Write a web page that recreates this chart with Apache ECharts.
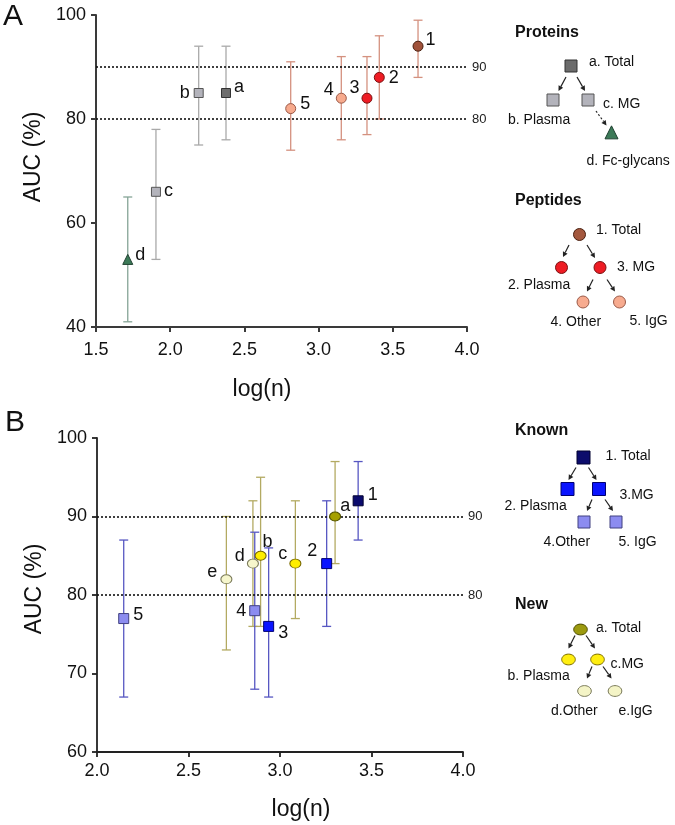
<!DOCTYPE html>
<html><head><meta charset="utf-8">
<script src="https://cdn.jsdelivr.net/npm/echarts@6/dist/echarts.min.js"></script>
<style>html,body{margin:0;padding:0;background:#fff}#c{width:675px;height:825px}</style>
</head><body><div id="c"></div><script>
// ---------- Panel A data ----------
const aIds  = ['a','b','c','d','1','2','3','4','5'];
const aLogN = [2.376, 2.192, 1.904, 1.714, 3.670, 3.409, 3.326, 3.153, 2.812];
const aAUC  = [85, 85, 66, 53, 94, 88, 84, 84, 82];
const aLow  = [76, 75, 53, 41, 88, 80, 77, 76, 74];
const aHigh = [94, 94, 78, 65, 99, 96, 92, 92, 91];
const aXTickLabels = ['1.5','2.0','2.5','3.0','3.5','4.0'];
const aYTickLabels = ['40','60','80','100'];
// ---------- Panel B data ----------
const bIds  = ['5','e','d','4','b','3','c','2','a','1'];
const bLogN = [2.146, 2.707, 2.852, 2.862, 2.894, 2.938, 3.084, 3.255, 3.301, 3.427];
const bAUC  = [77, 82, 84, 78, 85, 76, 84, 84, 90, 92];
const bLow  = [67, 73, 76, 68, 76, 67, 77, 76, 84, 87];
const bHigh = [87, 90, 92, 88, 95, 86, 92, 92, 97, 97];
const bXTickLabels = ['2.0','2.5','3.0','3.5','4.0'];
const bYTickLabels = ['60','70','80','90','100'];
const refLines = [90, 80];

// ---------- styles (not data) ----------
const FONT = 'Liberation Sans, Arial, Helvetica, sans-serif';
const ELL = 'path://M0,5A5,5,0,1,1,10,5A5,5,0,1,1,0,5Z';
const styleA = {
  a:{sym:'rect', size:9, fill:'#6d6d6d', stroke:'#333', err:'#a9a9a9', pos:'right', off:[-1,-6]},
  b:{sym:'rect', size:9, fill:'#b3b3bb', stroke:'#555', err:'#a9a9a9', pos:'left', off:[0,0]},
  c:{sym:'rect', size:9, fill:'#b3b3bb', stroke:'#555', err:'#a9a9a9', pos:'right', off:[-1,-1]},
  d:{sym:'triangle', size:10, fill:'#3c7a58', stroke:'#1f4030', err:'#86a496', pos:'right', off:[-2,-4]},
  '1':{sym:'circle', size:10, fill:'#a0523a', stroke:'#4a2010', err:'#d4917f', pos:'right', off:[-2,-6]},
  '2':{sym:'circle', size:10, fill:'#ee1c24', stroke:'#7a1010', err:'#d4917f', pos:'right', off:[0,1]},
  '3':{sym:'circle', size:10, fill:'#ee1c24', stroke:'#7a1010', err:'#d4917f', pos:'left', off:[2,-10]},
  '4':{sym:'circle', size:10, fill:'#f7aa8d', stroke:'#9a5a48', err:'#d4917f', pos:'left', off:[2,-8]},
  '5':{sym:'circle', size:10, fill:'#f7aa8d', stroke:'#9a5a48', err:'#d4917f', pos:'right', off:[0,-5]}
};
const styleB = {
  '1':{sym:'rect', size:10, fill:'#0b0b6e', stroke:'#000030', err:'#5757c2', pos:'right', off:[0,-6]},
  '2':{sym:'rect', size:10, fill:'#0a14ff', stroke:'#000070', err:'#5757c2', pos:'left', off:[0,-13]},
  '3':{sym:'rect', size:10, fill:'#0a14ff', stroke:'#000070', err:'#5757c2', pos:'right', off:[0,7]},
  '4':{sym:'rect', size:10, fill:'#8c8cf0', stroke:'#404080', err:'#5757c2', pos:'left', off:[1,0]},
  '5':{sym:'rect', size:10, fill:'#8c8cf0', stroke:'#404080', err:'#5757c2', pos:'right', off:[0,-4]},
  a:{sym:ELL, size:[11,9], fill:'#a5a000', stroke:'#505000', err:'#b3aa62', pos:'right', off:[-5,-10]},
  b:{sym:ELL, size:[11,9], fill:'#ffee00', stroke:'#7a6a00', err:'#b3aa62', pos:'top', off:[7,4]},
  c:{sym:ELL, size:[11,9], fill:'#ffee00', stroke:'#7a6a00', err:'#b3aa62', pos:'left', off:[2,-10]},
  d:{sym:ELL, size:[11,9], fill:'#f6f6cc', stroke:'#7a7a5a', err:'#b3aa62', pos:'left', off:[2,-8]},
  e:{sym:ELL, size:[11,9], fill:'#f6f6cc', stroke:'#7a7a5a', err:'#b3aa62', pos:'left', off:[1,-7]}
};

function errData(ids, xs, lo, hi, st){
  return ids.map((id,i)=>({value:[xs[i], lo[i], hi[i]], itemStyle:{color: st[id].err}}));
}
function ptData(ids, xs, ys, st){
  return ids.map((id,i)=>{
    const s = st[id];
    return {value:[xs[i], ys[i]], name:id, symbol:s.sym, symbolSize:s.size,
      itemStyle:{color:s.fill, borderColor:s.stroke, borderWidth:1, opacity:1},
      label:{show:true, formatter:id, position:s.pos, offset:s.off, distance:4,
             fontSize:18, fontFamily:FONT, color:'#111'}};
  });
}
function errRender(params, api){
  const x = api.value(0), lo = api.value(1), hi = api.value(2);
  const t = api.coord([x, hi]), b = api.coord([x, lo]);
  const c = api.visual('color'); const w = 4.5;
  const st = {stroke:c, lineWidth:1.3};
  return {type:'group', children:[
    {type:'line', shape:{x1:t[0], y1:t[1], x2:b[0], y2:b[1]}, style:st},
    {type:'line', shape:{x1:t[0]-w, y1:t[1], x2:t[0]+w, y2:t[1]}, style:st},
    {type:'line', shape:{x1:b[0]-w, y1:b[1], x2:b[0]+w, y2:b[1]}, style:st}
  ]};
}
function refMark(xmin, xmax){
  return {silent:true, symbol:['none','none'], animation:false,
    lineStyle:{type:[2,2], width:1.6, color:'#111'},
    label:{show:true, position:'end', distance:5, fontSize:13, fontFamily:FONT, color:'#222',
           formatter:p=>String(p.value)},
    data: refLines.map(v=>[{coord:[xmin, v], value:v},{coord:[xmax, v], value:v}])};
}

// ---------- legend diagrams (graphic) ----------
const G = [];
function txt(x,y,t,opt){ G.push({type:'text', x:x, y:y, silent:true, style:Object.assign({text:t, fill:'#111',
  font:(opt&&opt.bold?'bold ':'')+((opt&&opt.size)||14)+'px '+FONT, textAlign:'left', textVerticalAlign:'middle',
  align:'left', verticalAlign:'middle'}, opt&&opt.style||{})}); }
function sq(cx,cy,s,fill,stroke){ G.push({type:'rect', shape:{x:cx-s/2, y:cy-s/2, width:s, height:s}, style:{fill:fill, stroke:stroke, lineWidth:1}}); }
function circ(cx,cy,r,fill,stroke){ G.push({type:'circle', shape:{cx:cx, cy:cy, r:r}, style:{fill:fill, stroke:stroke, lineWidth:1}}); }
function ell(cx,cy,rx,ry,fill,stroke){ G.push({type:'ellipse', shape:{cx:cx, cy:cy, rx:rx, ry:ry}, style:{fill:fill, stroke:stroke, lineWidth:1}}); }
function tri(cx,cy,s,fill,stroke){ G.push({type:'polygon', shape:{points:[[cx,cy-s*0.55],[cx+s/2,cy+s*0.45],[cx-s/2,cy+s*0.45]]}, style:{fill:fill, stroke:stroke, lineWidth:1}}); }
function arrow(x1,y1,x2,y2,dashed){
  const a = Math.atan2(y2-y1, x2-x1), L = 5, W = 2.6;
  const bx = x2 - L*Math.cos(a), by = y2 - L*Math.sin(a);
  G.push({type:'line', shape:{x1:x1,y1:y1,x2:bx,y2:by}, style:{stroke:'#222', lineWidth:1.2, lineDash: dashed?[2,2]:null}});
  G.push({type:'polygon', shape:{points:[[x2,y2],[bx-W*Math.sin(a), by+W*Math.cos(a)],[bx+W*Math.sin(a), by-W*Math.cos(a)]]}, style:{fill:'#222'}});
}
// panel letters
txt(3, 17, 'A', {size:30});
txt(5, 423, 'B', {size:30});
// Proteins
txt(515, 33, 'Proteins', {bold:true, size:16});
sq(571, 66, 12, '#6b6b6b', '#333');
txt(589, 62, 'a. Total');
arrow(566, 77, 558.5, 91); arrow(577, 77, 585, 91);
sq(553, 100, 12, '#b3b3bb', '#555'); sq(588, 100, 12, '#b3b3bb', '#555');
txt(603, 104, 'c. MG'); txt(508, 120, 'b. Plasma');
arrow(596, 111, 606.5, 125.5, true);
tri(611.5, 133, 13, '#3c7a58', '#1f4030');
txt(586.5, 161.5, 'd. Fc-glycans');
// Peptides
txt(515, 201, 'Peptides', {bold:true, size:16});
circ(579.5, 234.5, 6, '#a4583e', '#4a2010');
txt(596, 230, '1. Total');
arrow(569, 245, 563, 257); arrow(587, 245, 595, 258);
circ(561.5, 267.5, 6, '#ee1c24', '#7a1010'); circ(600, 267.5, 6, '#ee1c24', '#7a1010');
txt(617, 267.5, '3. MG'); txt(508, 285, '2. Plasma');
arrow(593, 279.5, 587, 291.5); arrow(607, 279.5, 615, 291.5);
circ(583, 302, 6, '#f7ab8f', '#9a5a48'); circ(619.5, 302, 6, '#f7ab8f', '#9a5a48');
txt(550.5, 322.5, '4. Other'); txt(629.5, 321.5, '5. IgG');
// Known
txt(515, 431, 'Known', {bold:true, size:16});
sq(583.5, 457.5, 13, '#0c0c6c', '#000030');
txt(605.5, 456, '1. Total');
arrow(576, 467.5, 568.5, 480); arrow(588.5, 467.5, 596.5, 480);
sq(567.5, 489, 13, '#0a14ff', '#000070'); sq(599, 489, 13, '#0a14ff', '#000070');
txt(619.5, 495, '3.MG'); txt(504.5, 506.5, '2. Plasma');
arrow(592, 499.5, 587, 511); arrow(605, 499.5, 613, 511);
sq(584, 522, 12, '#8c8cf0', '#404080'); sq(616, 522, 12, '#8c8cf0', '#404080');
txt(543.5, 542.5, '4.Other'); txt(618.5, 542.5, '5. IgG');
// New
txt(515, 605, 'New', {bold:true, size:16});
ell(580.5, 629.5, 6.8, 5.4, '#9c9a10', '#4a4a00');
txt(596, 628, 'a. Total');
arrow(575, 635.5, 568.5, 648.5); arrow(586, 635.5, 595, 648.5);
ell(568.5, 659.5, 6.8, 5.4, '#ffee10', '#7a6a00'); ell(597.5, 659.5, 6.8, 5.4, '#ffee10', '#7a6a00');
txt(610.5, 664, 'c.MG'); txt(507.5, 676.5, 'b. Plasma');
arrow(592, 666.5, 587, 678.5); arrow(603, 666.5, 611.5, 678.5);
ell(584.5, 691, 6.8, 5.4, '#f4f4c6', '#7a7a5a'); ell(615, 691, 6.8, 5.4, '#f4f4c6', '#7a7a5a');
txt(551, 711.5, 'd.Other'); txt(618.5, 711.5, 'e.IgG');

// ---------- axes ----------
function xAx(grid, labels, gap, pad, lw, col, margin){
  const vals = labels.map(Number);
  return {type:'value', gridIndex:grid, min:vals[0], max:vals[vals.length-1], interval:vals[1]-vals[0],
    axisLine:{show:true, onZero:false, lineStyle:{color:col, width:lw}},
    axisTick:{show:true, length:5, lineStyle:{color:col, width:lw}},
    axisLabel:{fontSize:18, fontFamily:FONT, color:'#111', margin:margin,
      formatter:v=>{const i = vals.findIndex(t=>Math.abs(t-v)<1e-6); return i<0?'':labels[i];}},
    splitLine:{show:false},
    name:'log(n)', nameLocation:'middle', nameGap:gap,
    nameTextStyle:{fontSize:23, fontFamily:FONT, color:'#111', padding:pad}};
}
function yAx(grid, labels, gap, pad, lw, col){
  const vals = labels.map(Number);
  return {type:'value', gridIndex:grid, min:vals[0], max:vals[vals.length-1], interval:vals[1]-vals[0],
    axisLine:{show:true, onZero:false, lineStyle:{color:col, width:lw}},
    axisTick:{show:true, length:5, lineStyle:{color:col, width:lw}},
    axisLabel:{fontSize:18, fontFamily:FONT, color:'#111', margin:10,
      formatter:v=>{const i = vals.findIndex(t=>Math.abs(t-v)<1e-6); return i<0?'':labels[i];}},
    splitLine:{show:false},
    name:'AUC (%)', nameLocation:'middle', nameGap:gap,
    nameTextStyle:{fontSize:23, fontFamily:FONT, color:'#111', padding:pad}};
}

const chart = echarts.init(document.getElementById('c'), null, {renderer:'canvas'});
chart.setOption({
  animation:false,
  backgroundColor:'#fff',
  textStyle:{fontFamily:FONT},
  grid:[
    {left:96, top:15, width:371, height:312},
    {left:97, top:438, width:366, height:314}
  ],
  xAxis:[ xAx(0, aXTickLabels, 51, [0,39,0,0], 2, '#3a3a3a', 14),
          xAx(1, bXTickLabels, 46, [0,0,0,42], 1.8, '#222', 10) ],
  yAxis:[ yAx(0, aYTickLabels, 50, [0,0,0,28], 2, '#3a3a3a'),
          yAx(1, bYTickLabels, 50, [0,0,0,12], 1.8, '#222') ],
  graphic: G,
  series:[
    {type:'custom', name:'A error', xAxisIndex:0, yAxisIndex:0, renderItem:errRender,
     encode:{x:0, y:[1,2]}, data:errData(aIds, aLogN, aLow, aHigh, styleA), z:2,
     markLine: refMark(1.5, 4.0)},
    {type:'scatter', name:'A points', xAxisIndex:0, yAxisIndex:0, z:5,
     data:ptData(aIds, aLogN, aAUC, styleA)},
    {type:'custom', name:'B error', xAxisIndex:1, yAxisIndex:1, renderItem:errRender,
     encode:{x:0, y:[1,2]}, data:errData(bIds, bLogN, bLow, bHigh, styleB), z:2,
     markLine: refMark(2.0, 4.0)},
    {type:'scatter', name:'B points', xAxisIndex:1, yAxisIndex:1, z:5,
     data:ptData(bIds, bLogN, bAUC, styleB)}
  ]
});
</script></body></html>
